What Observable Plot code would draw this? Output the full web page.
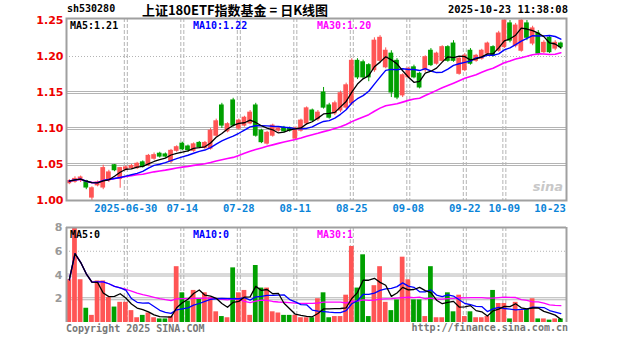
<!DOCTYPE html>
<html><head><meta charset="utf-8">
<script src="https://cdn.jsdelivr.net/npm/d3@7"></script>
<script src="https://cdn.jsdelivr.net/npm/@observablehq/plot@0.6"></script>
<style>
body{margin:0;background:#fff;}
#wrap{position:relative;width:627px;height:342px;overflow:hidden;background:#fff;}
#wrap svg{position:absolute;left:0;}
.t{position:absolute;white-space:nowrap;line-height:1;}
</style></head><body><div id="wrap"></div>
<script>
const dates = ["06-16","06-17","06-18","06-19","06-20","06-23","06-24","06-25","06-26","06-27","06-30",
"07-01","07-02","07-03","07-04","07-07","07-08","07-09","07-10","07-11","07-14","07-15","07-16","07-17","07-18","07-21","07-22","07-23","07-24","07-25","07-28","07-29","07-30","07-31",
"08-01","08-04","08-05","08-06","08-07","08-08","08-11","08-12","08-13","08-14","08-15","08-18","08-19","08-20","08-21","08-22","08-25","08-26","08-27","08-28","08-29",
"09-01","09-02","09-03","09-04","09-05","09-08","09-09","09-10","09-11","09-12","09-15","09-16","09-17","09-18","09-19","09-22","09-23","09-24","09-25","09-26","09-29","09-30",
"10-09","10-10","10-13","10-14","10-15","10-16","10-17","10-20","10-21","10-22","10-23"];
const open  = [1.024,1.026,1.028,1.027,1.004,1.021,1.018,1.028,1.049,1.030,1.043,1.045,1.045,1.053,1.049,1.058,1.065,1.064,1.054,1.069,1.079,1.075,1.069,1.080,1.073,1.072,1.090,1.132,1.096,1.139,1.100,1.104,1.107,1.132,1.097,1.079,1.090,1.097,1.101,1.100,1.086,1.097,1.107,1.125,1.113,1.150,1.132,1.121,1.125,1.129,1.135,1.194,1.192,1.188,1.181,1.194,1.185,1.204,1.194,1.146,1.171,1.185,1.176,1.181,1.208,1.190,1.194,1.213,1.218,1.176,1.181,1.208,1.194,1.197,1.204,1.213,1.208,1.213,1.246,1.215,1.208,1.246,1.218,1.232,1.206,1.226,1.211,1.218];
const high  = [1.029,1.033,1.034,1.028,1.019,1.027,1.049,1.042,1.050,1.046,1.048,1.050,1.053,1.055,1.064,1.066,1.067,1.066,1.071,1.076,1.081,1.077,1.080,1.082,1.082,1.100,1.113,1.135,1.108,1.142,1.113,1.117,1.125,1.135,1.099,1.096,1.106,1.102,1.103,1.102,1.102,1.113,1.130,1.127,1.125,1.157,1.135,1.138,1.152,1.163,1.197,1.197,1.195,1.190,1.226,1.229,1.212,1.208,1.197,1.176,1.185,1.188,1.178,1.201,1.211,1.206,1.215,1.215,1.222,1.199,1.204,1.211,1.203,1.210,1.220,1.215,1.235,1.253,1.250,1.246,1.253,1.250,1.242,1.236,1.222,1.229,1.222,1.220];
const low   = [1.022,1.024,1.025,1.015,1.000,1.019,1.015,1.025,1.040,1.017,1.041,1.043,1.043,1.045,1.047,1.056,1.059,1.059,1.051,1.067,1.069,1.067,1.067,1.072,1.071,1.070,1.088,1.100,1.094,1.102,1.098,1.102,1.105,1.088,1.079,1.077,1.088,1.095,1.094,1.095,1.084,1.095,1.105,1.109,1.110,1.127,1.113,1.118,1.122,1.126,1.132,1.168,1.168,1.165,1.178,1.190,1.183,1.143,1.140,1.143,1.169,1.169,1.155,1.178,1.186,1.188,1.192,1.192,1.192,1.174,1.179,1.188,1.192,1.195,1.202,1.199,1.206,1.211,1.219,1.212,1.206,1.222,1.215,1.201,1.204,1.204,1.208,1.210];
const close = [1.027,1.030,1.032,1.018,1.017,1.025,1.045,1.039,1.042,1.045,1.046,1.048,1.051,1.047,1.062,1.063,1.061,1.061,1.069,1.074,1.071,1.070,1.078,1.074,1.080,1.097,1.110,1.104,1.106,1.104,1.111,1.115,1.122,1.090,1.081,1.094,1.104,1.100,1.096,1.097,1.100,1.111,1.128,1.111,1.122,1.129,1.115,1.135,1.149,1.160,1.194,1.171,1.171,1.171,1.222,1.226,1.208,1.150,1.143,1.174,1.183,1.171,1.157,1.199,1.188,1.204,1.213,1.194,1.194,1.197,1.201,1.190,1.201,1.208,1.218,1.201,1.232,1.250,1.222,1.243,1.250,1.226,1.239,1.204,1.219,1.206,1.219,1.213];
const volume = [3.6,8.0,3.6,1.2,0.6,3.5,3.5,2.1,1.3,1.7,1.7,1.0,0.4,0.6,0.8,0.4,0.3,0.3,0.5,4.7,2.5,1.8,2.7,2.0,2.5,2.1,0.9,0.5,0.4,4.6,2.5,2.7,0.6,4.8,2.9,2.9,0.9,0.8,0.6,0.6,0.6,0.4,0.4,0.4,2.0,2.5,0.4,0.5,0.5,2.3,6.4,2.9,5.7,0.5,3.1,4.7,1.7,1.0,1.9,5.5,3.6,1.9,1.9,0.5,4.7,0.4,0.4,2.5,0.9,2.3,0.5,0.9,0.4,0.4,0.5,2.7,1.6,1.6,0.3,1.7,1.0,1.1,2.0,0.3,0.3,0.2,0.3,0.3];
const tickDates  = ["06-30","07-14","07-28","08-11","08-25","09-08","09-22","10-09","10-23"];
const tickLabels = ["2025-06-30","07-14","07-28","08-11","08-25","09-08","09-22","10-09","10-23"];
const priceTicks = [1.00,1.05,1.10,1.15,1.20,1.25];
const volTicks = [2,4,6,8];
const legendMain = ["MA5:1.21","MA10:1.22","MA30:1.20"];
const legendVol = ["MA5:0","MA10:0","MA30:1"];
const title = "上证180ETF指数基金 = 日K线图";
const code = "sh530280";
const stamp = "2025-10-23 11:38:08";

const RED = "#ff5555", GREEN = "#00a000", GRID = "#b4b4b4";
const rows = dates.map((d, i) => ({i, date: d, open: open[i], high: high[i], low: low[i], close: close[i], volume: volume[i]}));
const col = d => d.close >= d.open ? RED : GREEN;
const ticks = tickDates.map((d, k) => ({i: dates.indexOf(d), label: tickLabels[k]}));
const gridTicks = ticks.slice(0, -1);
const xs = {domain: [-0.5, 88.0], axis: null};
const W = 0.42;

const vGrid = [
  Plot.ruleX(gridTicks, {x: "i", dx: -1.5, stroke: GRID, strokeDasharray: "4,2"}),
  Plot.ruleX(gridTicks, {x: "i", dx: 1.5, stroke: GRID, strokeDasharray: "4,2"})
];

const main = Plot.plot({
  width: 627, height: 220,
  marginLeft: 66, marginRight: 61, marginTop: 18, marginBottom: 20,
  x: xs,
  y: {domain: [1.0, 1.2528], axis: null},
  color: {type: "identity"},
  style: {fontFamily: "DejaVu Sans", background: "transparent"},
  marks: [
    Plot.ruleY([1.05, 1.10, 1.15], {dy: -1, stroke: GRID}),
    Plot.ruleY([1.05, 1.10, 1.15], {dy: 1, stroke: GRID}),
    Plot.ruleY([1.20], {stroke: GRID, strokeDasharray: "1,2"}),
    ...vGrid,
    Plot.ruleX(rows, {x: "i", y1: "low", y2: "high", stroke: col, strokeWidth: 1}),
    Plot.rect(rows, {x1: d => d.i - W, x2: d => d.i + W, y1: d => Math.min(d.open, d.close), y2: d => Math.max(d.open, d.close), fill: col, insetTop: -0.5, insetBottom: -0.5}),
    Plot.lineY(rows, Plot.windowY({k: 30, anchor: "end"}, {x: "i", y: "close", stroke: "#ff00ff", strokeWidth: 1.6})),
    Plot.lineY(rows, Plot.windowY({k: 10, anchor: "end"}, {x: "i", y: "close", stroke: "#0000ff", strokeWidth: 1.4})),
    Plot.lineY(rows, Plot.windowY({k: 5, anchor: "end"}, {x: "i", y: "close", stroke: "#000000", strokeWidth: 1.3})),
    Plot.frame({stroke: "#a0a0a0", strokeWidth: 2}),
    Plot.axisY({ticks: priceTicks, tickFormat: d => d.toFixed(2), tickSize: 0, tickPadding: 3, label: null, fill: "#ee0000", fontWeight: "bold", fontSize: 11}),
    Plot.text(ticks.slice(0, -1), {x: "i", text: "label", frameAnchor: "bottom", dy: 11, fill: "#0a84d8", fontWeight: "bold", fontSize: 10.5, fontFamily: "DejaVu Sans Mono"}),
    Plot.text(ticks.slice(-1), {x: "i", text: "label", frameAnchor: "bottom", dy: 11, dx: 5, textAnchor: "end", fill: "#0a84d8", fontWeight: "bold", fontSize: 10.5, fontFamily: "DejaVu Sans Mono"})
  ]
});
main.style.top = "0px";

const vol = Plot.plot({
  width: 627, height: 122,
  marginLeft: 66, marginRight: 61, marginTop: 7, marginBottom: 20,
  x: xs,
  y: {domain: [0, 8], axis: null},
  color: {type: "identity"},
  style: {fontFamily: "DejaVu Sans", background: "transparent"},
  marks: [
    Plot.ruleY([2, 4], {dy: -1, stroke: GRID}),
    Plot.ruleY([2, 4], {dy: 1, stroke: GRID}),
    Plot.ruleY([6], {stroke: GRID, strokeDasharray: "1,2"}),
    ...vGrid,
    Plot.rect(rows, {x1: d => d.i - W, x2: d => d.i + W, y1: 0, y2: "volume", fill: col}),
    Plot.lineY(rows, Plot.windowY({k: 30, anchor: "end"}, {x: "i", y: "volume", stroke: "#ff00ff", strokeWidth: 1.3})),
    Plot.lineY(rows, Plot.windowY({k: 10, anchor: "end"}, {x: "i", y: "volume", stroke: "#0000ff", strokeWidth: 1.3})),
    Plot.lineY(rows, Plot.windowY({k: 5, anchor: "end"}, {x: "i", y: "volume", stroke: "#000000", strokeWidth: 1.3})),
    Plot.ruleY([8], {stroke: "#a0a0a0", strokeWidth: 2}),
    Plot.ruleX([-0.5, 88.0], {stroke: "#a0a0a0", strokeWidth: 2}),
    Plot.axisY({ticks: volTicks, tickSize: 0, tickPadding: 4, label: null, fill: "#999", fontWeight: "bold", fontSize: 11})
  ]
});
vol.style.top = "220px";

const wrap = document.getElementById("wrap");
wrap.appendChild(main);
wrap.appendChild(vol);

function txt(s, x, y, style, anchor) {
  const el = document.createElement("div");
  el.className = "t";
  el.textContent = s;
  Object.assign(el.style, {left: x + "px", top: y + "px"}, style);
  const tx = anchor === "middle" ? "-50%" : anchor === "end" ? "-100%" : "0";
  el.style.transform = `translate(${tx},-50%)`;
  wrap.appendChild(el);
}
const mono = {fontFamily: "DejaVu Sans Mono", fontWeight: "bold", fontSize: "10px"};
txt(code, 67, 9, {...mono, color: "#000"});
txt(title, 235, 9, {fontFamily: "Noto Sans CJK SC", fontWeight: "bold", fontSize: "13px", color: "#000"}, "middle");
txt(stamp, 568, 9, {...mono, fontSize: "10.5px", color: "#000"}, "end");
txt(legendMain[0], 70, 26, {...mono, color: "#000"});
txt(legendMain[1], 193, 26, {...mono, color: "#0000ff"});
txt(legendMain[2], 317, 26, {...mono, color: "#ff00ff"});
txt(legendVol[0], 70, 235, {...mono, color: "#000"});
txt(legendVol[1], 193, 235, {...mono, color: "#0000ff"});
txt(legendVol[2], 317, 235, {...mono, color: "#ff00ff"});
txt("Copyright 2025 SINA.COM", 66, 329, {...mono, color: "#777"});
txt("http://finance.sina.com.cn", 568, 328, {...mono, color: "#777"}, "end");
txt("sina", 563, 186, {fontFamily: "DejaVu Sans", fontWeight: "bold", fontStyle: "italic", fontSize: "13px", color: "#c8c8c8"}, "end");
</script></body></html>
